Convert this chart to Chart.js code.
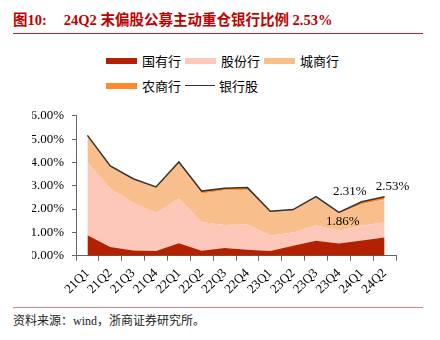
<!DOCTYPE html>
<html>
<head>
<meta charset="utf-8">
<script src="https://cdn.jsdelivr.net/npm/chart.js@4.4.1/dist/chart.umd.min.js"></script>
<style>
  body { margin: 0; background: #fff; }
  #page { position: relative; width: 440px; height: 340px; overflow: hidden; }
  #title {
    position: absolute; left: 13px; top: 10px; width: 410px; height: 23px;
    border-bottom: 1px solid #C8202A; color: #C00000;
    font: bold 14.5px/20px "Liberation Serif", "Noto Sans CJK SC", serif;
    white-space: nowrap;
  }
  #title .fig { margin-right: 17px; }
  #legend {
    position: absolute; left: 106px; top: 54px; width: 250px;
    display: flex; flex-wrap: wrap; row-gap: 12px;
    font: 13px/13px "Noto Sans CJK SC", sans-serif; color: #000;
  }
  .item { display: inline-flex; align-items: center; height: 13px; margin-right: 4px; }
  .swatch { width: 31px; height: 6px; margin-right: 5px; }
  .swatch.line { width: 30px; height: 1px; margin-right: 4px; }
  #wrap { position: absolute; left: 0; top: 100px; width: 440px; height: 205px; }
  #source {
    position: absolute; left: 13px; top: 307px; width: 410px;
    border-top: 1px solid #E27C7C; padding-top: 5px;
    font: 12px/16px "Liberation Serif", "Noto Sans CJK SC", serif; color: #222;
  }
</style>
</head>
<body>
<div id="page">
  <div id="title"><span class="fig">图10:</span><span>24Q2 末偏股公募主动重仓银行比例 2.53%</span></div>
  <div id="legend"></div>
  <div id="wrap"><canvas id="chart"></canvas></div>
  <div id="source">资料来源：wind，浙商证券研究所。</div>
</div>
<script>
// Quarter-end share of active equity fund holdings in bank stocks (%)
const quarters = ['21Q1', '21Q2', '21Q3', '21Q4', '22Q1', '22Q2', '22Q3',
                  '22Q4', '23Q1', '23Q2', '23Q3', '23Q4', '24Q1', '24Q2'];

const stateOwned = [0.88, 0.37, 0.22, 0.20, 0.53, 0.21, 0.33, 0.25, 0.20, 0.43, 0.64, 0.52, 0.65, 0.78];
const jointStock = [3.12, 2.51, 2.06, 1.63, 1.92, 1.22, 0.99, 1.09, 0.67, 0.56, 0.67, 0.54, 0.65, 0.64];
const cityComm   = [1.14, 0.95, 1.00, 1.09, 1.51, 1.24, 1.48, 1.49, 0.99, 0.94, 1.19, 0.75, 0.91, 0.99];
const ruralComm  = [0.02, 0.02, 0.02, 0.03, 0.06, 0.10, 0.09, 0.09, 0.05, 0.05, 0.03, 0.05, 0.10, 0.12];
const bankTotal  = [5.16, 3.85, 3.30, 2.95, 4.02, 2.77, 2.89, 2.92, 1.91, 1.98, 2.53, 1.86, 2.31, 2.53];

// points on the total line that get a value label
const labelledPoints = [11, 12, 13];

const serif = '"Liberation Serif", "Noto Sans CJK SC", serif';
Chart.defaults.font.family = serif;
Chart.defaults.color = '#000';

function areaSet(label, data, color, fill) {
    return {
        label, data, fill,
        stack: 'banks',
        backgroundColor: color,
        borderColor: color,
        borderWidth: 0,
        pointRadius: 0,
        tension: 0
    };
}

// value labels next to the last few points of the total line
const pointLabels = {
    id: 'pointLabels',
    afterDatasetsDraw(chart) {
        const idx = chart.data.datasets.findIndex(d => d.stack === 'total');
        const meta = chart.getDatasetMeta(idx);
        const offsets = { 11: [4, 9], 12: [-12, -10], 13: [8, -10] };
        const ctx = chart.ctx;
        ctx.save();
        ctx.font = '13px ' + serif;
        ctx.fillStyle = '#000';
        ctx.textAlign = 'center';
        ctx.textBaseline = 'middle';
        labelledPoints.forEach(i => {
            const pt = meta.data[i];
            const [dx, dy] = offsets[i] || [0, -10];
            ctx.fillText(bankTotal[i].toFixed(2) + '%', pt.x + dx, pt.y + dy);
        });
        ctx.restore();
    }
};

const chart = new Chart(document.getElementById('chart'), {
    type: 'line',
    data: {
        labels: quarters,
        datasets: [
            areaSet('国有行', stateOwned, '#B22200', 'origin'),
            areaSet('股份行', jointStock, '#FDC7B9', '-1'),
            areaSet('城商行', cityComm, '#F8BF8C', '-1'),
            areaSet('农商行', ruralComm, '#FF8A2A', '-1'),
            {
                label: '银行股',
                data: bankTotal,
                stack: 'total',
                order: -1,
                fill: false,
                borderColor: '#333',
                borderWidth: 1.5,
                pointRadius: 0,
                tension: 0
            }
        ]
    },
    options: {
        responsive: true,
        maintainAspectRatio: false,
        animation: false,
        layout: { padding: { top: 13.5, left: 32, right: 44, bottom: 9.3 } },
        plugins: {
            legend: { display: false },
            tooltip: { enabled: false }
        },
        scales: {
            x: {
                offset: true,
                grid: { offset: true, drawOnChartArea: false, tickLength: 5, color: '#666' },
                border: { color: '#666', width: 1 },
                ticks: {
                    autoSkip: false,
                    minRotation: 45,
                    maxRotation: 45,
                    padding: 5,
                    font: { size: 13 }
                },
                afterFit: scale => { scale.height = 40; }
            },
            y: {
                stacked: true,
                min: 0,
                max: 6,
                grid: { drawOnChartArea: false, tickLength: 4, color: '#666' },
                border: { color: '#666', width: 1 },
                ticks: {
                    stepSize: 1,
                    padding: 8,
                    font: { size: 13 },
                    callback: v => v.toFixed(2) + '%'
                },
                afterFit: scale => { scale.width = 44; }
            }
        }
    },
    plugins: [pointLabels]
});

// HTML legend in two rows, built from the datasets
function buildLegend(chart) {
    const box = document.getElementById('legend');
    box.innerHTML = '';
    chart.data.datasets.forEach(ds => {
        const item = document.createElement('span');
        item.className = 'item';
        const sw = document.createElement('span');
        if (ds.fill === false) {
            sw.className = 'swatch line';
            sw.style.background = ds.borderColor;
        } else {
            sw.className = 'swatch';
            sw.style.background = ds.backgroundColor;
        }
        item.appendChild(sw);
        item.appendChild(document.createTextNode(ds.label));
        box.appendChild(item);
    });
}

buildLegend(chart);
</script>
</body>
</html>
